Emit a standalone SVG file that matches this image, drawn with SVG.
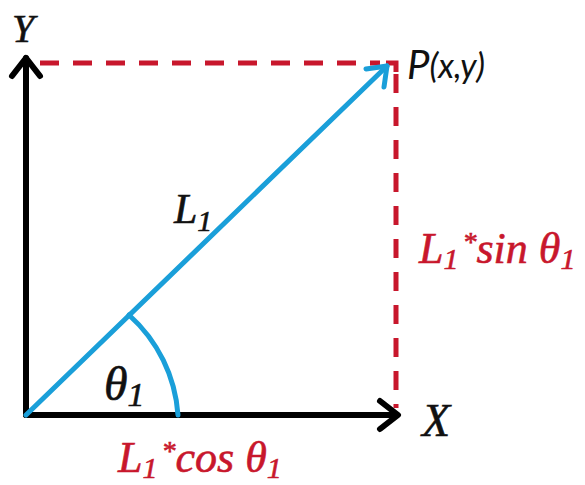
<svg xmlns="http://www.w3.org/2000/svg" width="585" height="485" viewBox="0 0 585 485">
<style>
.ax{stroke:#000;stroke-width:6;fill:none;stroke-linecap:round;stroke-linejoin:round}
.bl{stroke:#1a9fd9;stroke-width:5;fill:none;stroke-linecap:round;stroke-linejoin:round}
.dash{stroke:#c8172c;stroke-width:5;fill:none;stroke-dasharray:19 14}
.t{font-family:"Liberation Serif","DejaVu Serif",serif;font-style:italic;stroke-width:0.6}
.blk{fill:#111;stroke:#111}
.red{fill:#c8172c;stroke:#c8172c}
</style>
<rect width="585" height="485" fill="#fff"/>
<g id="connectors">
<line class="dash" x1="40" y1="63" x2="380" y2="63"/>
<line class="dash" x1="396" y1="74" x2="396" y2="408"/>
<path class="dash" d="M386 63 H396 V72" stroke-dasharray="none"/>
</g>
<g id="y-axis">
<line class="ax" x1="26" y1="415" x2="26" y2="58"/>
<polyline class="ax" points="12,76 26,58 40,76"/>
<text class="t blk" x="12" y="42" font-size="40">Y</text>
</g>
<g id="x-axis">
<line class="ax" x1="26" y1="415" x2="396" y2="415"/>
<polyline class="ax" points="380,401 398,415 380,429"/>
<text class="t blk" x="422" y="436" font-size="46">X</text>
</g>
<g id="vector-L1">
<line class="bl" x1="26" y1="415" x2="387" y2="66"/>
<polyline class="bl" points="366,69 387,66 384,87"/>
<text class="t blk" x="174" y="223" font-size="42">L<tspan font-size="30" dy="8">1</tspan></text>
</g>
<g id="angle">
<path class="bl" d="M129 315 A148 148 0 0 1 178 415"/>
<text class="t blk" x="104" y="400" font-size="48">θ<tspan font-size="34" dy="6">1</tspan></text>
</g>
<g id="point-P">
<text x="407" y="79" font-family="Lato,'Open Sans',sans-serif" font-style="italic" fill="#111"><tspan font-size="40">P</tspan><tspan font-size="34" dy="-1">(x,y)</tspan></text>
</g>
<g id="sin-label">
<text class="t red" x="419" y="263" font-size="44">L<tspan font-size="30" dy="6">1</tspan><tspan font-size="28" dy="-18" dx="4">*</tspan><tspan dy="12">sin θ</tspan><tspan font-size="30" dy="6">1</tspan></text>
</g>
<g id="cos-label">
<text class="t red" x="118" y="472" font-size="44">L<tspan font-size="30" dy="6">1</tspan><tspan font-size="28" dy="-18" dx="4">*</tspan><tspan dy="12">cos θ</tspan><tspan font-size="30" dy="6">1</tspan></text>
</g>
</svg>
